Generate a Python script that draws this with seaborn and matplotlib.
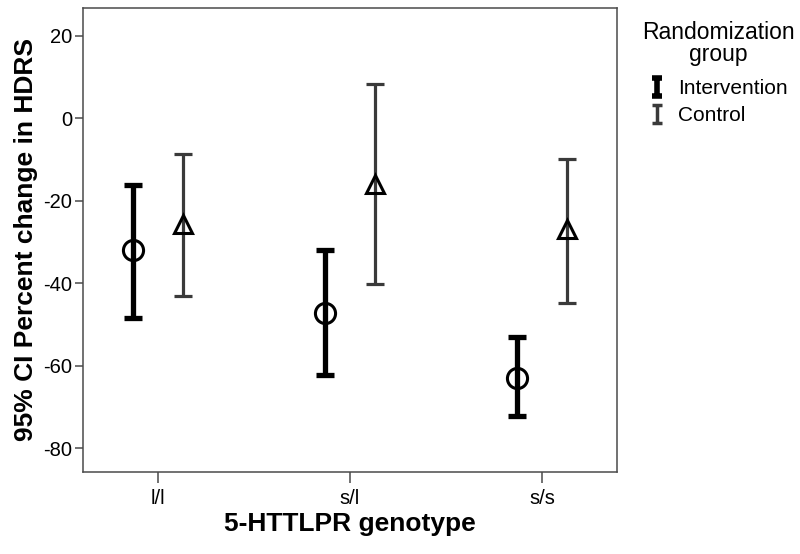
import numpy as np
import pandas as pd
import matplotlib
matplotlib.use("Agg")
import matplotlib.pyplot as plt
from matplotlib.path import Path
from matplotlib.lines import Line2D
import seaborn as sns

genotypes = ["l/l", "s/l", "s/s"]
groups = ["Intervention", "Control"]
intervention_mean = [-32.0, -47.2, -63.0]
intervention_lo = [-48.4, -62.2, -72.2]
intervention_hi = [-16.2, -32.0, -53.1]
control_mean = [-25.6, -16.0, -26.9]
control_lo = [-43.0, -40.3, -44.7]
control_hi = [-8.6, 8.2, -9.8]

rows = []
for i, g in enumerate(genotypes):
    rows.append(dict(genotype=g, group="Intervention", mean=intervention_mean[i],
                     lo=intervention_lo[i], hi=intervention_hi[i]))
    rows.append(dict(genotype=g, group="Control", mean=control_mean[i],
                     lo=control_lo[i], hi=control_hi[i]))
df = pd.DataFrame(rows)

sns.set_theme(style="white")
plt.rcParams["font.family"] = ["Liberation Sans", "DejaVu Sans"]
plt.rcParams["axes.unicode_minus"] = False
plt.rcParams["text.color"] = "black"
plt.rcParams["axes.labelcolor"] = "black"

fig = plt.figure(figsize=(8, 5.54), dpi=100)
ax = fig.add_axes([0.104, 0.148, 0.667, 0.838])

styles = {
    "Intervention": dict(color="black", lw=3.8, capthick=3.8, capsize=6.5, off=-0.13),
    "Control": dict(color="#3a3a3a", lw=2.3, capthick=2.3, capsize=6.5, off=0.13),
}

x = np.arange(len(genotypes))
for grp in groups:
    sub = df[df.group == grp].set_index("genotype").loc[genotypes]
    st = styles[grp]
    ax.errorbar(x + st["off"], sub["mean"],
                yerr=[sub["mean"] - sub["lo"], sub["hi"] - sub["mean"]],
                fmt="none", ecolor=st["color"], elinewidth=st["lw"],
                capsize=st["capsize"], capthick=st["capthick"], zorder=2)

sns.pointplot(data=df, x="genotype", y="mean", hue="group", order=genotypes,
              hue_order=groups, dodge=0.26, linestyle="none", errorbar=None,
              markers=["o", "^"], palette=["black", "black"], ax=ax, legend=False)

for ln in ax.lines:
    if ln.get_marker() in ("o", "^"):
        ln.set_markerfacecolor("none")
        ln.set_markeredgecolor("black")
        ln.set_markeredgewidth(2.2)
        ln.set_markersize(14.5 if ln.get_marker() == "o" else 13)
        ln.set_zorder(3)

ax.set_xlim(-0.39, 2.39)
ax.set_ylim(-85.8, 26.8)
ax.set_yticks([20, 0, -20, -40, -60, -80])
ax.set_xlabel("5-HTTLPR genotype", fontsize=19, fontweight="bold", labelpad=3)
ax.set_ylabel("95% CI Percent change in HDRS", fontsize=19, fontweight="bold", labelpad=4)

for sp in ax.spines.values():
    sp.set_visible(True)
    sp.set_color("#4a4a4a")
    sp.set_linewidth(1.1)
ax.tick_params(axis="y", which="major", direction="out", length=6, width=1.1,
               color="#4a4a4a", labelsize=14.5, labelcolor="black", left=True, pad=2)
ax.tick_params(axis="x", which="major", direction="out", length=8, width=1.1,
               color="#4a4a4a", labelsize=14.5, labelcolor="black", bottom=True, pad=4)

ibeam = Path([(-0.5, 1), (0.5, 1), (0, 1), (0, -1), (-0.5, -1), (0.5, -1)],
             [Path.MOVETO, Path.LINETO, Path.MOVETO, Path.LINETO, Path.MOVETO, Path.LINETO])
handles = [
    Line2D([], [], linestyle="none", marker=ibeam, markersize=13, markeredgewidth=4.0,
           color="black"),
    Line2D([], [], linestyle="none", marker=ibeam, markersize=13, markeredgewidth=2.5,
           color="#3a3a3a"),
]
leg = fig.legend(handles, groups, title="Randomization\ngroup", loc="upper left",
                 bbox_to_anchor=(0.792, 0.978), frameon=False, fontsize=15,
                 title_fontsize=16.5, handlelength=0.8, handletextpad=0.6,
                 borderaxespad=0, labelspacing=0.38)
leg.get_title().set_multialignment("center")
leg.get_title().set_linespacing(0.95)
for t in leg.get_texts():
    t.set_color("black")
leg.get_title().set_color("black")
try:
    leg._legend_box.sep = 0.38 * 15 + 4
except Exception:
    pass

fig.savefig("out.png", dpi=100)
